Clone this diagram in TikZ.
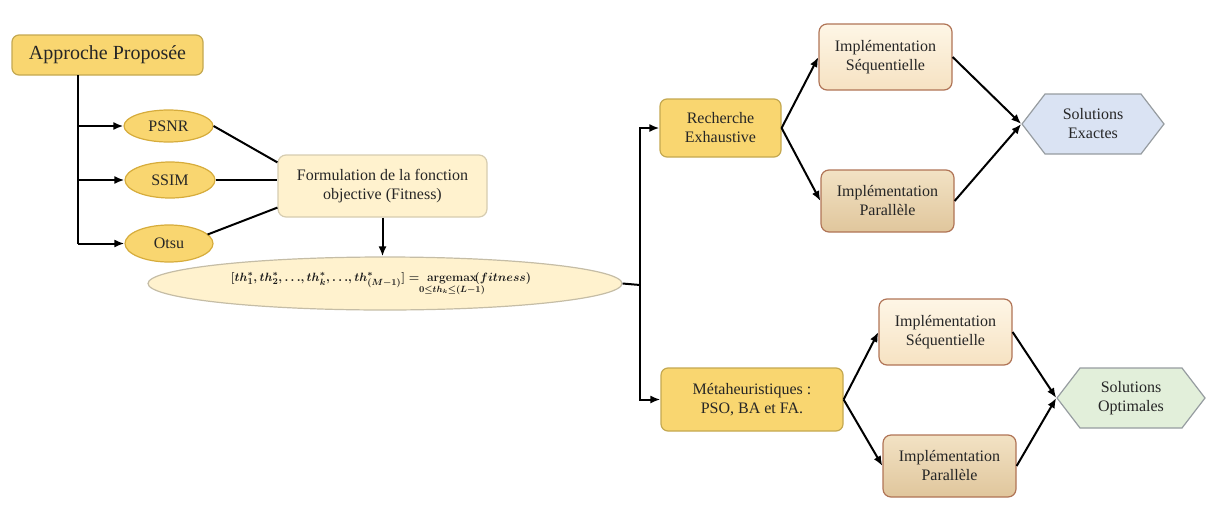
\documentclass[tikz,border=0pt]{standalone}
\usepackage{amsmath}
\usepackage{fontspec}
\setmainfont{Liberation Serif}
\usetikzlibrary{shapes.geometric,shapes.symbols,arrows.meta,calc}

\definecolor{gold}{RGB}{249,214,112}
\definecolor{goldline}{RGB}{196,168,80}
\definecolor{ovalline}{RGB}{214,172,60}
\definecolor{cream}{RGB}{255,242,206}
\definecolor{creamline}{RGB}{214,204,176}
\definecolor{seqtop}{RGB}{254,246,230}
\definecolor{seqbot}{RGB}{246,226,194}
\definecolor{partop}{RGB}{242,226,196}
\definecolor{parbot}{RGB}{224,198,156}
\definecolor{brownline}{RGB}{176,116,86}
\definecolor{hexblue}{RGB}{218,227,243}
\definecolor{hexgreen}{RGB}{226,239,218}
\definecolor{hexline}{RGB}{150,156,160}

% objective: thresholds maximising the fitness
\newcommand{\fitnesseq}{%
  {\boldmath$[th_1^*{,}\,th_2^*{,}\,{\ldots}{,}\,th_k^*{,}\,{\ldots}{,}\,th_{(M-1)}^*] = \;
   \mathop{\mathbf{argemax}}\limits_{\hbox to 0pt{\hss$\scriptstyle 0\le th_k\le(L-1)$\hss}}\!(fitness)$}}

\tikzset{
  txt/.style={font=\fontsize{16}{19}\selectfont, align=center, text=black!85},
  goldbox/.style={txt, rectangle, rounded corners=7pt, fill=gold, draw=goldline, line width=1.2pt},
  goldoval/.style={txt, ellipse, fill=gold, draw=ovalline, line width=1.2pt, inner sep=0pt},
  creambox/.style={txt, rectangle, rounded corners=8pt, fill=cream, draw=creamline, line width=1.2pt},
  seqbox/.style={txt, rectangle, rounded corners=8pt, top color=seqtop, bottom color=seqbot, draw=brownline, line width=1.2pt, minimum width=133pt, minimum height=66pt},
  parbox/.style={txt, rectangle, rounded corners=8pt, top color=partop, bottom color=parbot, draw=brownline, line width=1.2pt, minimum width=133pt, minimum height=62pt},
  hexnode/.style={txt, signal, signal to=west and east, signal pointer angle=105, draw=hexline, line width=1.2pt, minimum height=60pt, inner sep=2pt},
  conn/.style={line width=2pt, black},
  arr/.style={conn, -{Latex[length=10pt,width=8pt]}},
  eqfont/.style={font=\fontsize{12.5}{15}\selectfont, text=black!90},
}

\begin{document}
\begin{tikzpicture}[x=1pt,y=-1pt]
\useasboundingbox (0,0) rectangle (1214,522);

% left part: criteria and objective function
\node[goldbox, minimum width=191pt, minimum height=40pt, font=\fontsize{20}{24}\selectfont] (app) at (107.5,55) {Approche Proposée};
\node[goldoval, minimum width=89pt, minimum height=32pt] (psnr) at (168.5,126) {PSNR};
\node[goldoval, minimum width=90pt, minimum height=36pt] (ssim) at (170,180) {SSIM};
\node[goldoval, minimum width=88pt, minimum height=37pt] (otsu) at (169,243.5) {Otsu};
\node[creambox, minimum width=209pt, minimum height=62pt] (form) at (382.5,186) {Formulation de la fonction\\objective (Fitness)};
\node[ellipse, fill=cream, draw=creamline!80!gray, line width=1.2pt, minimum width=474pt, minimum height=53pt, inner sep=0pt] (eq) at (385,283.5) {};
\node[eqfont] (eqtxt) at (381,284) {\fitnesseq};

\coordinate (trunk) at (78,75);
\coordinate (split) at (640,285);

\draw[conn] (trunk) -- (trunk |- otsu);
\draw[arr] (trunk |- psnr) -- (psnr.west);
\draw[arr] (trunk |- ssim) -- (ssim.west);
\draw[arr] (trunk |- otsu) -- (otsu.west);
\draw[conn] (psnr.east) -- ([yshift=-8pt]form.north west);
\draw[conn] (ssim.east) -- (ssim.east -| form.west);
\draw[conn] ([xshift=-6pt,yshift=9pt]otsu.east) -- ([yshift=10pt]form.south west);
\draw[arr] (form.south) -- (form.south |- eq.north);

% right part: the two resolution approaches
\node[goldbox, minimum width=121pt, minimum height=58pt] (rech) at (720.5,128) {Recherche\\Exhaustive};
\node[goldbox, minimum width=182pt, minimum height=63pt] (meta) at (752,399.5) {Métaheuristiques :\\PSO, BA et FA.};

\node[seqbox] (seqA) at (885.5,57) {Implémentation\\Séquentielle};
\node[parbox] (parA) at (887.5,201) {Implémentation\\Parallèle};
\node[seqbox] (seqB) at (945.5,332) {Implémentation\\Séquentielle};
\node[parbox] (parB) at (949.5,466) {Implémentation\\Parallèle};

\node[hexnode, fill=hexblue, minimum width=142pt] (exact) at (1093,124) {Solutions\\Exactes};
\node[hexnode, fill=hexgreen, minimum width=148pt] (optim) at (1131,398) {Solutions\\Optimales};

\draw[conn] (eq.east) -- (split);
\draw[arr] (split) |- (rech.west);
\draw[arr] (split) |- (meta.west);

\draw[arr] (rech.east) -- (seqA.west);
\draw[arr] (rech.east) -- (parA.west);
\draw[arr] (seqA.east) -- (exact.west);
\draw[arr] (parA.east) -- (exact.west);

\draw[arr] (meta.east) -- (seqB.west);
\draw[arr] (meta.east) -- (parB.west);
\draw[arr] (seqB.east) -- (optim.west);
\draw[arr] (parB.east) -- (optim.west);
\end{tikzpicture}
\end{document}
